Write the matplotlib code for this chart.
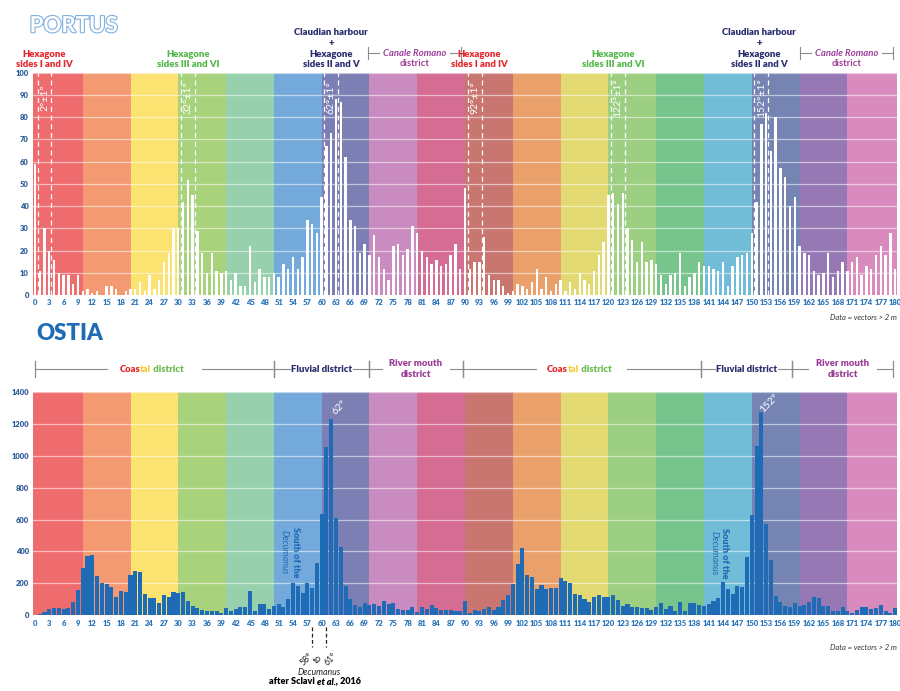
import matplotlib.pyplot as plt
import matplotlib.patheffects as pe
from matplotlib.transforms import blended_transform_factory

plt.rcParams['font.family'] = ['Lato', 'DejaVu Sans']

degrees = list(range(181))

portus_counts = [59, 11, 30, 20, 16, 10, 9, 9, 5, 9,
                 2, 3, 1, 2, 0, 4, 4, 3, 0, 2,
                 3, 3, 6, 2, 9, 3, 7, 15, 19, 30,
                 30, 42, 52, 45, 29, 19, 10, 19, 11, 10,
                 11, 7, 10, 4, 4, 22, 6, 12, 8, 8,
                 10, 8, 14, 12, 17, 12, 17, 34, 32, 28,
                 44, 67, 73, 88, 87, 62, 34, 31, 19, 23,
                 18, 27, 17, 12, 7, 22, 23, 18, 21, 31,
                 28, 20, 17, 14, 16, 13, 14, 18, 23, 12,
                 48, 12, 15, 15, 26, 9, 7, 7, 4, 1,
                 2, 5, 4, 3, 6, 12, 3, 8, 2, 5,
                 7, 2, 6, 3, 10, 7, 5, 11, 18, 24,
                 45, 46, 41, 46, 30, 25, 15, 24, 15, 16,
                 14, 9, 5, 9, 10, 19, 4, 8, 10, 15,
                 13, 13, 12, 11, 15, 4, 13, 17, 18, 19,
                 28, 42, 77, 82, 65, 80, 57, 53, 40, 44,
                 22, 19, 18, 11, 9, 10, 19, 8, 11, 15,
                 11, 15, 17, 9, 13, 12, 18, 22, 18, 28,
                 12]

ostia_counts = [3, 6, 19, 38, 44, 48, 42, 48, 81, 156,
                298, 371, 375, 244, 202, 194, 179, 113, 152, 146,
                250, 275, 271, 136, 108, 106, 75, 127, 115, 148,
                138, 146, 88, 58, 48, 35, 29, 29, 29, 13,
                44, 25, 40, 50, 50, 154, 25, 73, 73, 40,
                56, 71, 50, 104, 202, 184, 138, 204, 169, 330,
                636, 1051, 1231, 607, 430, 186, 102, 65, 50, 79,
                67, 73, 56, 88, 73, 79, 42, 35, 35, 50,
                19, 50, 40, 63, 46, 33, 33, 33, 27, 27,
                92, 13, 33, 27, 42, 50, 33, 50, 96, 129,
                196, 323, 419, 250, 240, 163, 192, 167, 173, 173,
                234, 217, 200, 131, 125, 102, 83, 115, 127, 115,
                115, 125, 94, 56, 69, 50, 50, 46, 46, 35,
                52, 75, 38, 60, 27, 86, 27, 79, 79, 65,
                58, 73, 90, 106, 206, 167, 136, 184, 179, 367,
                630, 1062, 1270, 571, 346, 121, 83, 60, 52, 77,
                56, 65, 81, 115, 106, 56, 60, 25, 25, 50,
                25, 17, 35, 50, 52, 42, 48, 67, 25, 15,
                44]

# background bands, 10 degrees each
band_colors = ['#ee6b6e', '#f39a72', '#fbe271', '#a9d27c', '#97d0ad',
               '#74aadb', '#7c7fb4', '#c98bc0', '#d56c93', '#c97671',
               '#e9a06b', '#e2d972', '#9ccf81', '#77c58c', '#71bcd6',
               '#7584b3', '#9679b4', '#d98bbe']

peak_centres = [2, 32, 62, 92, 122, 152]

tick_blue = '#2a74b9'
bar_blue = '#1f6bb5'
red = '#e5262c'
green = '#52b84a'
navy = '#2b2d6e'
purple = '#9b3d97'
grey = '#8c8c8c'
W = 'heavy'

fig = plt.figure(figsize=(9, 6.91), dpi=100)
ax1 = fig.add_axes([0.0367, 0.5727, 0.96, 0.3221])
ax2 = fig.add_axes([0.0367, 0.1095, 0.96, 0.3236])


def base_axes(ax, ymax, ystep):
    for i, c in enumerate(band_colors):
        x0 = i * 10 if i > 0 else -0.4
        x1 = (i + 1) * 10 if i < len(band_colors) - 1 else 180.4
        ax.axvspan(x0, x1, color=c, lw=0, zorder=0)
    for y in range(ystep, ymax + 1, ystep):
        ax.axhline(y, color='white', alpha=0.55, lw=0.9, zorder=1)
    ax.set_xlim(-0.4, 180.4)
    ax.set_ylim(0, ymax)
    ax.set_xticks(range(0, 181, 3))
    ax.set_yticks(range(0, ymax + 1, ystep))
    ax.tick_params(length=0, labelsize=5.5, pad=3)
    for lab in ax.get_xticklabels():
        lab.set_color(tick_blue)
        lab.set_fontweight(W)
    for lab in ax.get_yticklabels():
        lab.set_color('#2c5a98')
        lab.set_fontweight(W)
    for s in ax.spines.values():
        s.set_visible(False)


# ---- PORTUS ----
base_axes(ax1, 100, 10)
ax1.bar(degrees, portus_counts, width=0.5, color='white', lw=0, zorder=3)
for c in peak_centres:
    for xl in (c - 1.45, c + 1.45):
        ax1.axvline(xl, color='white', ls=(0, (4, 3)), lw=0.9, zorder=4)
    ax1.text(c, 89, f'{c}°±1°', rotation=90, color='white', fontsize=7.5,
             ha='center', va='center', zorder=5)

fig.text(0.033, 0.978, 'PORTUS', fontsize=16, fontweight='bold', color='white',
         ha='left', va='top',
         path_effects=[pe.withStroke(linewidth=1.6, foreground='#7fb0e0')])

tr1 = blended_transform_factory(ax1.transData, ax1.transAxes)
hex_labels = [(2, 'Hexagone\nsides I and IV', red),
              (32, 'Hexagone\nsides III and VI', green),
              (62, 'Claudian harbour\n+\nHexagone\nsides II and V', navy),
              (93, 'Hexagone\nsides I and IV', red),
              (121, 'Hexagone\nsides III and VI', green),
              (151.5, 'Claudian harbour\n+\nHexagone\nsides II and V', navy)]
for x, txt, col in hex_labels:
    ax1.text(x, 1.015, txt, transform=tr1, ha='center', va='bottom', fontsize=6.8,
             fontweight=W, color=col, linespacing=1.25, clip_on=False)

for x0, x1 in [(69.7, 89.2), (160, 179.6)]:
    xc = (x0 + x1) / 2
    ax1.plot([x0, xc - 7.5], [1.088, 1.088], transform=tr1, color=grey, lw=0.8, clip_on=False)
    ax1.plot([xc + 7.5, x1], [1.088, 1.088], transform=tr1, color=grey, lw=0.8, clip_on=False)
    for xe in (x0, x1):
        ax1.plot([xe, xe], [1.06, 1.115], transform=tr1, color=grey, lw=0.8, clip_on=False)
    ax1.text(xc, 1.088, 'Canale Romano', transform=tr1, ha='center', va='center',
             fontsize=6.8, style='italic', fontweight='bold', color=purple, clip_on=False)
    ax1.text(xc, 1.042, 'district', transform=tr1, ha='center', va='center',
             fontsize=6.8, fontweight='bold', color=purple, clip_on=False)

ax1.text(1.0, -0.102, 'Data = vectors > 2 m', transform=ax1.transAxes, ha='right',
         va='center', fontsize=5.5, style='italic', color='#333333')

# ---- OSTIA ----
base_axes(ax2, 1400, 200)
ax2.bar(degrees, ostia_counts, width=0.85, color=bar_blue, lw=0, zorder=3)

fig.text(0.04, 0.532, 'OSTIA', fontsize=16, fontweight=W, color='#1f6bb5',
         ha='left', va='top')

ax2.text(63.8, 1300, '62°', rotation=45, color='white', fontsize=7.5,
         ha='center', va='center', zorder=5)
ax2.text(153.6, 1330, '152°', rotation=45, color='white', fontsize=7.5,
         ha='center', va='center', zorder=5)

for x, y in [(54.5, 396), (144.4, 390)]:
    ax2.text(x, y, 'South of the', rotation=-90, color=bar_blue, fontsize=6.5,
             fontweight=W, ha='center', va='center', zorder=5)
    ax2.text(x - 2.3, y, 'Decumanus', rotation=-90, color=bar_blue, fontsize=6.5,
             style='italic', ha='center', va='center', zorder=5)

tr2 = blended_transform_factory(ax2.transData, ax2.transAxes)
yb = 1.101
districts = [(0, 50, 'coastal', 10.0),
             (50, 70, 'Fluvial district', 6.6),
             (70, 89.5, 'River mouth\ndistrict', 7.2),
             (89.5, 139.3, 'coastal', 9.5),
             (139.3, 158.5, 'Fluvial district', 6.6),
             (158.5, 179.5, 'River mouth\ndistrict', 7.2)]
for x0, x1, name, gap in districts:
    xc = (x0 + x1) / 2
    ax2.plot([x0, xc - gap], [yb, yb], transform=tr2, color=grey, lw=0.8, clip_on=False)
    ax2.plot([xc + gap, x1], [yb, yb], transform=tr2, color=grey, lw=0.8, clip_on=False)
    for xe in (x0, x1):
        ax2.plot([xe, xe], [yb - 0.035, yb + 0.035], transform=tr2, color=grey,
                 lw=0.9, clip_on=False)
    if name == 'coastal':
        t_mid = ax2.text(xc - 1.8, yb, 'tal', transform=tr2, ha='center', va='center',
                         fontsize=6.8, fontweight=W, color='#f2cf3a', clip_on=False)
        ax2.annotate('Coas', xy=(0, 0.5), xycoords=t_mid, ha='right', va='center',
                     fontsize=6.8, fontweight=W, color=red)
        ax2.annotate(' district', xy=(1, 0.5), xycoords=t_mid, ha='left', va='center',
                     fontsize=6.8, fontweight=W, color='#6cbb4f')
    elif name.startswith('Fluvial'):
        ax2.text(xc, yb, name, transform=tr2, ha='center', va='center', fontsize=6.8,
                 fontweight=W, color=navy, clip_on=False)
    else:
        ax2.text(xc, yb, name, transform=tr2, ha='center', va='center', fontsize=6.8,
                 fontweight=W, color=purple, linespacing=1.3, clip_on=False)

# Decumanus orientation (Sclavi et al.)
for xd in (58, 61):
    ax2.plot([xd, xd], [-0.052, -0.142], transform=tr2, color='#222222', lw=0.9,
             ls=(0, (3, 2)), clip_on=False)
ax2.text(56.9, -0.196, '58°', transform=tr2, rotation=45, ha='center', va='center',
         fontsize=6.3, color='#222222')
ax2.text(59.2, -0.196, 'to', transform=tr2, rotation=45, ha='center', va='center',
         fontsize=6.3, color='#222222')
ax2.text(61.8, -0.196, '61°', transform=tr2, rotation=45, ha='center', va='center',
         fontsize=6.3, color='#222222')
ax2.text(59.4, -0.255, 'Decumanus', transform=tr2, ha='center', va='center',
         fontsize=6.3, style='italic', color='#222222')
t_et = ax2.text(61.2, -0.298, 'et al.,', transform=tr2, ha='center', va='center',
                fontsize=6.5, style='italic', fontweight=W, color='black')
ax2.annotate('after Sclavi ', xy=(0, 0.5), xycoords=t_et, ha='right', va='center',
             fontsize=6.5, fontweight=W, color='black')
ax2.annotate(' 2016', xy=(1, 0.5), xycoords=t_et, ha='left', va='center',
             fontsize=6.5, fontweight=W, color='black')

ax2.text(1.0, -0.146, 'Data = vectors > 2 m', transform=ax2.transAxes, ha='right',
         va='center', fontsize=5.5, style='italic', color='#333333')

fig.savefig('out.png', dpi=100, facecolor='white')
